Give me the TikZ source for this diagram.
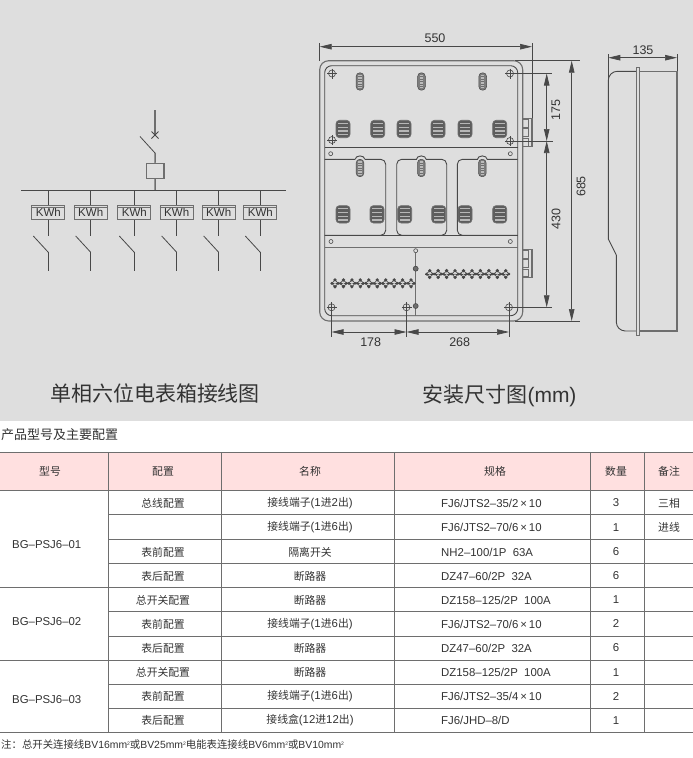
\documentclass[tikz,border=0pt]{standalone}
\usepackage{fontspec}
\setmainfont{Liberation Sans}
\newfontfamily\cjk{Noto Sans CJK SC}
\newfontfamily\cjks[Scale=0.95]{Noto Sans CJK SC}
\usetikzlibrary{arrows.meta,calc}
\definecolor{bg}{HTML}{DEDEDE}
\definecolor{ln}{HTML}{484848}
\definecolor{ln2}{HTML}{6E6E6E}
\definecolor{tx}{HTML}{333333}
\definecolor{hd}{HTML}{FFE0E0}
\newcommand{\zh}[1]{{\cjk #1}}
\newcommand{\msq}{\raisebox{3.5pt}{\fontsize{5}{5}\selectfont 2}}
\tikzset{
  wire/.style={draw=ln,line width=0.8pt},
  wirethick/.style={draw=ln2,line width=1.5pt},
  edge1/.style={draw=ln,line width=0.9pt},
  edge2/.style={draw=ln2,line width=1.1pt},
  dim/.style={draw=ln,line width=0.7pt,{Stealth[length=12pt,width=5.5pt,inset=0pt]}-{Stealth[length=12pt,width=5.5pt,inset=0pt]}},
  ext/.style={draw=ln,line width=0.7pt},
  dimtext/.style={text=tx,font=\fontsize{12.5}{14}\selectfont,inner sep=0pt},
  meter/.style={draw=ln2,line width=1.1pt,minimum width=33pt,minimum height=14pt,inner sep=0pt,text=tx,font=\fontsize{11.5}{12}\selectfont},
  cell/.style={text=tx,font=\let\cjk\cjks\fontsize{11.4}{12}\selectfont,inner sep=0pt},
  cellw/.style={cell,anchor=west},
  tline/.style={draw=ln2,line width=1pt},
  hole/.style={circle,draw=ln,line width=0.6pt,minimum size=7pt,inner sep=0pt},
  smallhole/.style={circle,draw=ln,line width=0.6pt,fill=bg,minimum size=4pt,inner sep=0pt},
  blackdot/.style={circle,draw=ln,line width=0.6pt,fill=ln2,minimum size=5pt,inner sep=0pt},
}
\begin{document}
\begin{tikzpicture}[x=1pt,y=-1pt]
\useasboundingbox (0,0) rectangle (693,758);
\fill[white] (0,0) rectangle (693,758);
\fill[bg] (0,0) rectangle (693,421);

% ---- single line schematic
\coordinate (feed) at (155,110);
\coordinate (brkT) at (155,135);
\coordinate (blade) at (140,136.5);
\coordinate (bladeE) at (155,153);
\node[draw=ln2,line width=1.1pt,minimum width=17.5pt,minimum height=15pt,inner sep=0pt] (mainbox) at (155.2,170.8) {};
\coordinate (busL) at (21,190.3);
\coordinate (busR) at (286,190.3);
\coordinate (busT) at (155,190.3);
\draw[wirethick] (feed) -- (brkT);
\draw[wire] ($(brkT)+(-3.5,-3.5)$) -- ($(brkT)+(3.5,3.5)$);
\draw[wire] ($(brkT)+(-3.5,3.5)$) -- ($(brkT)+(3.5,-3.5)$);
\draw[wire] (blade) -- (bladeE);
\draw[wirethick] (bladeE) -- (mainbox.north);
\draw[wirethick] (mainbox.south) -- (busT);
\draw[wire,line width=1pt] (busL) -- (busR);
\foreach \i/\x in {1/48.3,2/90.7,3/134.3,4/176.7,5/218.7,6/260.3}{
  \coordinate (d\i) at (\x,190.3);
  \node[meter] (m\i) at (\x,212.2) {\raisebox{-1.8pt}{KWh}};
  \draw[ln2,line width=.9pt] ($(m\i.north west)+(0,3)$) -- ($(m\i.north east)+(0,3)$);
  \coordinate (s\i) at (\x,236);
  \coordinate (bl\i) at (\x-15,236);
  \coordinate (be\i) at (\x,252.3);
  \coordinate (e\i) at (\x,270.7);
  \draw[wire] (d\i) -- (m\i.north);
  \draw[wire] (m\i.south) -- (s\i);
  \draw[wire] (bl\i) -- (be\i);
  \draw[wire] (be\i) -- (e\i);
}

% ---- front view
\draw[edge2,rounded corners=9pt] (319.7,60.7) rectangle (522.7,321);
\draw[edge1,rounded corners=7pt] (324.7,65.7) rectangle (517.7,315.7);
\draw[edge1] (324.7,147.3) -- (517.7,147.3);
\draw[edge1] (324.7,235.3) -- (517.7,235.3);
\draw[edge2,line width=1.5pt] (324.7,247.7) -- (517.7,247.7);
% compartments
\draw[edge1,rounded corners=5pt] (324.7,159.3) -- (385.7,159.3) -- (385.7,235.3) -- (324.7,235.3);
\draw[edge1,rounded corners=5pt] (396.7,235.3) rectangle (446.7,159.3);
\draw[edge1,rounded corners=5pt] (517.7,159.3) -- (457.3,159.3) -- (457.3,235.3) -- (517.7,235.3);
\foreach \x in {360,421.3,482.3}{
  \fill[bg] (\x-4.8,157) rectangle (\x+4.8,159.9);
  \draw[edge1] (\x-4.8,159.3) arc[start angle=180,end angle=0,x radius=4.8pt,y radius=3.4pt];
}
% slots
\foreach \x/\y in {360/81.5,421.5/81.5,482.7/81.5,360/168,421.3/168,482.3/168}{
  \draw[ln,line width=.5pt,fill=ln2!90!white,rounded corners=3.5pt] (\x-3.8,\y-8.7) rectangle (\x+3.8,\y+8.7);
  \fill[bg!70!ln2] (\x-1.6,\y-6.6) rectangle (\x+1.6,\y+6.6);
  \foreach \d in {-5,-2.5,...,5}{
    \fill[ln2] (\x-1.6,\y+\d-.45) rectangle (\x+1.6,\y+\d+.45);
  }
}
% meter blocks
\foreach \x/\y in {343/129,377.7/129,404/129,438/129,465/129,499.7/129,343/214.3,377/214.3,404.7/214.3,438.7/214.3,465/214.3,499.7/214.3}{
  \draw[ln2,line width=.7pt,fill=ln2!85!black,rounded corners=3.5pt] (\x-7,\y-8.7) rectangle (\x+7,\y+8.7);
  \foreach \d in {-5.6,-1.9,1.9,5.6}{
    \fill[bg!65!ln2] (\x-4.8,\y+\d-.6) rectangle (\x+4.8,\y+\d+.6);
  }
}
% small holes, divider
\foreach \n/\x/\y in {a/330.7/153.7,b/510.3/153.7,c/331/241.5,d/510.3/241.5}{
  \node[smallhole] (sh\n) at (\x,\y) {};
}
\node[smallhole] (divT) at (415.7,250.7) {};
\coordinate (divB) at (415.7,315.7);
\draw[edge2] (divT) -- (divB);
\node[blackdot] (dotA) at (415.7,268.7) {};
\node[blackdot] (dotB) at (415.7,306) {};
% terminal rows
\foreach \y/\xs in {283.3/335,274/429.7}{
  \foreach \k in {0,...,9}{
    \pgfmathsetmacro{\cx}{\xs+8.45*\k}
    \fill[ln] (\cx,\y-3.4) circle (1.8pt);
    \fill[ln] (\cx,\y+3.4) circle (1.8pt);
    \fill[ln] (\cx-3.2,\y) circle (1.5pt);
    \fill[ln] (\cx+3.2,\y) circle (1.5pt);
    \draw[ln,line width=.7pt] (\cx-4.4,\y) -- (\cx+4.4,\y);
    \draw[ln,line width=.7pt] (\cx,\y-3.4) -- (\cx-3.2,\y) -- (\cx,\y+3.4) -- (\cx+3.2,\y) -- cycle;
    \fill[bg!80!ln] (\cx,\y) circle (.9pt);
  }
}
% fixing holes
\foreach \n/\x/\y in {tl/332/73.5,tr/510/73.5,ml/332/140,mr/510/141,bl/331.5/307.3,bm/406.5/307.3,br/509/307.3}{
  \node[hole] (h\n) at (\x,\y) {};
  \draw[ln,line width=.6pt] (\x-5,\y) -- (\x+5,\y) (\x,\y-5) -- (\x,\y+5);
}
% side tabs
\foreach \t/\b in {118.3/146.7,249.3/277.3}{
  \draw[edge2] (522.7,\t) -- (532,\t) -- (532,\b) -- (522.7,\b);
  \pgfmathsetmacro{\h}{(\b-\t)/3}
  \foreach \k in {0,1,2}{
    \draw[edge2,line width=.8pt] (522.7,\t+\h*\k+1) rectangle (528.7,\t+\h*\k+\h-.5);
  }
}
% dimensions
\coordinate (x550L) at (319.7,46.7);
\coordinate (x550R) at (532,46.7);
\draw[ext] (319.7,43.3) -- (319.7,61);
\draw[ext] (532,43.3) -- (532,118.3);
\draw[dim] (x550L) -- (x550R);
\node[dimtext] (t550) at (435,38.5) {550};

\coordinate (a175T) at (546.7,73.5);
\coordinate (a175B) at (546.7,141);
\coordinate (a430B) at (546.7,307.3);
\coordinate (a685T) at (571.7,60.7);
\coordinate (a685B) at (571.7,321);
\draw[ext] (htr) -- (552,73.5);
\draw[ext] (hmr) -- (552.7,141);
\draw[ext] (hbr) -- (552,307.3);
\draw[ext] (515,60.7) -- (580,60.7);
\draw[ext] (515,321) -- (580,321);
\draw[dim] (a175T) -- (a175B);
\draw[dim] (a175B) -- (a430B);
\draw[dim] (a685T) -- (a685B);
\node[dimtext,rotate=90] (t175) at (556,110) {175};
\node[dimtext,rotate=90] (t430) at (556,219) {430};
\node[dimtext,rotate=90] (t685) at (581,186.5) {685};

\coordinate (b1) at (331.5,332);
\coordinate (b2) at (406.5,332);
\coordinate (b3) at (509,332);
\draw[ext] (hbl) -- (331.5,336.7);
\draw[ext] (hbm) -- (406.5,336.7);
\draw[ext] (hbr) -- (509,336.7);
\draw[dim] (b1) -- (b2);
\draw[dim] (b2) -- (b3);
\node[dimtext] (t178) at (370.7,342.3) {178};
\node[dimtext] (t268) at (459.7,342.3) {268};

% ---- side view
\draw[edge1,rounded corners=9pt] (636.7,71.3) -- (608.3,71.3) -- (608.3,239);
\draw[edge1] (608.3,239) -- (616.3,255);
\draw[edge1,rounded corners=9pt] (616.3,255) -- (616.3,331) -- (636.7,331);
\draw[edge2] (639.3,71.3) -- (677,71.3) -- (677,331) -- (639.3,331);
\draw[edge2,fill=bg] (636.7,67.3) rectangle (639.3,335.3);
\draw[ext] (608.3,54) -- (608.3,80);
\draw[ext] (677,54) -- (677,71.3);
\coordinate (c1) at (608.3,57.7);
\coordinate (c2) at (677,57.7);
\draw[dim] (c1) -- (c2);
\node[dimtext] (t135) at (643,50) {135};

% ---- captions
\node[text=tx,inner sep=0pt,font=\fontsize{21}{22}\selectfont] (cap1) at (155,393.5) {\zh{单相六位电表箱接线图}};
\node[text=tx,inner sep=0pt,font=\fontsize{21}{22}\selectfont] (cap2) at (499.5,396) {\zh{安装尺寸图}(mm)};
\node[anchor=west,text=tx,inner sep=0pt,font=\fontsize{13}{14}\selectfont] (tabcap) at (1,435) {\zh{产品型号及主要配置}};

% ---- table
\fill[hd] (0,452) rectangle (693,490.7);
\foreach \y in {452,490.7,587.7,660.3,732.7}{\draw[tline] (0,\y) -- (693,\y);}
\foreach \y in {514.7,539.3,563.7,611.7,636,684.3,708.7}{\draw[tline] (108,\y) -- (693,\y);}
\foreach \x in {108,221.5,394.7,590.7,644.3}{\draw[tline] (\x,452) -- (\x,732.7);}
% header
\foreach \n/\x/\t in {a/50/型号,b/163/配置,c/310/名称,d/495/规格,e/616/数量,f/669/备注}{
  \node[cell] (hd\n) at (\x,471.5) {\zh{\t}};
}
% models
\node[cellw] (mod1) at (12,544.5) {BG–PSJ6–01};
\node[cellw] (mod2) at (12,622) {BG–PSJ6–02};
\node[cellw] (mod3) at (12,700) {BG–PSJ6–03};
% col config
\foreach \n/\y/\t in {1/503/总线配置,3/552/表前配置,4/576/表后配置,5/600/总开关配置,6/624/表前配置,7/648/表后配置,8/672.5/总开关配置,9/696.5/表前配置,10/720.5/表后配置}{
  \node[cell] (cf\n) at (163,\y) {\zh{\t}};
}
% names
\node[cell] (nm1) at (310,503) {\zh{接线端子}(1\zh{进}2\zh{出})};
\node[cell] (nm2) at (310,527.5) {\zh{接线端子}(1\zh{进}6\zh{出})};
\node[cell] (nm3) at (310,552) {\zh{隔离开关}};
\node[cell] (nm4) at (310,576) {\zh{断路器}};
\node[cell] (nm5) at (310,600) {\zh{断路器}};
\node[cell] (nm6) at (310,624) {\zh{接线端子}(1\zh{进}6\zh{出})};
\node[cell] (nm7) at (310,648) {\zh{断路器}};
\node[cell] (nm8) at (310,672.5) {\zh{断路器}};
\node[cell] (nm9) at (310,696.5) {\zh{接线端子}(1\zh{进}6\zh{出})};
\node[cell] (nm10) at (310,720.5) {\zh{接线盒}(12\zh{进}12\zh{出})};
% specs
\foreach \n/\y/\t in {1/503/{FJ6/JTS2–35/2\,×\,10},2/527.5/{FJ6/JTS2–70/6\,×\,10},3/552/{NH2–100/1P\ \ 63A},4/576/{DZ47–60/2P\ \ 32A},5/600/{DZ158–125/2P\ \ 100A},6/624/{FJ6/JTS2–70/6\,×\,10},7/648/{DZ47–60/2P\ \ 32A},8/672.5/{DZ158–125/2P\ \ 100A},9/696.5/{FJ6/JTS2–35/4\,×\,10},10/720.5/{FJ6/JHD–8/D}}{
  \node[cellw] (sp\n) at (441,\y) {\t};
}
% quantity
\foreach \n/\y/\t in {1/503/3,2/527.5/1,3/552/6,4/576/6,5/600/1,6/624/2,7/648/6,8/672.5/1,9/696.5/2,10/720.5/1}{
  \node[cell] (qt\n) at (616,\y) {\t};
}
\node[cell] (nt1) at (669,503) {\zh{三相}};
\node[cell] (nt2) at (669,527) {\zh{进线}};
% note
\node[anchor=west,text=tx,inner sep=0pt,font=\fontsize{10.4}{12}\selectfont] (note) at (1,745) {\zh{注：总开关连接线}BV16mm\msq\zh{或}BV25mm\msq\zh{电能表连接线}BV6mm\msq\zh{或}BV10mm\msq};
\end{tikzpicture}
\end{document}
